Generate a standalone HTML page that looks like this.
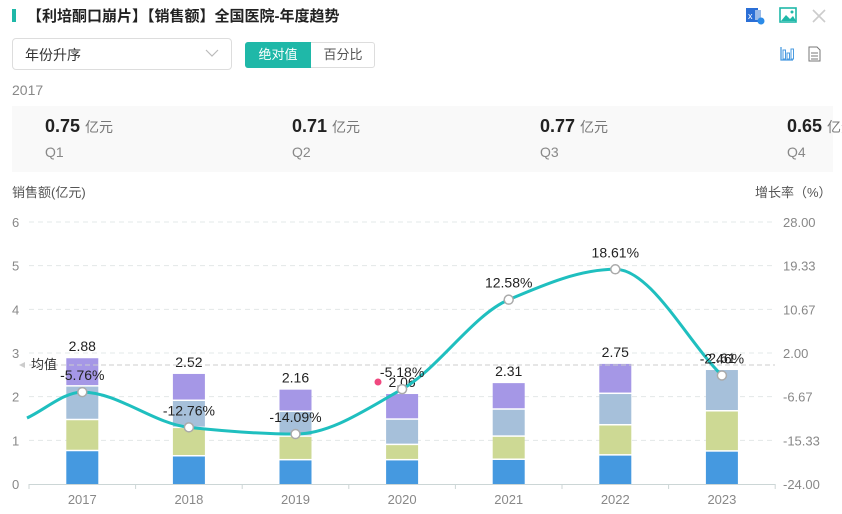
<!DOCTYPE html>
<html><head><meta charset="utf-8"><style>
body{margin:0;width:842px;height:514px;background:#fff;font-family:"Liberation Sans","Noto Sans CJK SC",sans-serif;position:relative;overflow:hidden;color:#333}
.a{position:absolute;white-space:nowrap}
</style></head><body>
<div class="a" style="left:12px;top:9px;width:4px;height:13px;background:#1fb8a8"></div>
<div class="a" style="left:27px;top:5px;font-size:15px;font-weight:bold;color:#222">【利培酮口崩片】【销售额】全国医院-年度趋势</div>
<svg class="a" style="left:745px;top:6px" width="90" height="20">
<rect x="1" y="2" width="12" height="14" fill="#2b6fd6"/><text x="3" y="13" font-size="9" fill="#fff" font-family="Liberation Sans">x</text><rect x="10" y="4" width="6" height="10" fill="#9bbbe8"/><circle cx="16" cy="15" r="3.5" fill="#2b8be8"/>
<rect x="35" y="2" width="16" height="14" fill="none" stroke="#1fb8a8" stroke-width="1.6"/><path d="M36 15 L41 9 L45 13 L48 10 L51 15Z" fill="#1fb8a8"/><circle cx="47" cy="6" r="1.5" fill="#1fb8a8"/>
<path d="M68 4 L80 16 M80 4 L68 16" stroke="#ccc" stroke-width="1.6"/>
</svg>
<div class="a" style="left:12px;top:38px;width:220px;height:32px;border:1px solid #ddd;border-radius:4px;box-sizing:border-box"></div>
<div class="a" style="left:25px;top:45px;font-size:14px;color:#333">年份升序</div>
<svg class="a" style="left:205px;top:48px" width="14" height="10"><path d="M1 2 L7 8 L13 2" fill="none" stroke="#bbb" stroke-width="1.2"/></svg>
<div class="a" style="left:245px;top:42px;width:130px;height:26px;border:1px solid #ddd;border-radius:3px;box-sizing:border-box"></div>
<div class="a" style="left:245px;top:42px;width:66px;height:26px;background:#1fb8a8;border-radius:3px 0 0 3px;color:#fff;font-size:13px;line-height:26px;text-align:center">绝对值</div>
<div class="a" style="left:311px;top:42px;width:64px;font-size:13px;line-height:26px;text-align:center;color:#555">百分比</div>
<svg class="a" style="left:778px;top:44px" width="50" height="20">
<path d="M3 3 V16 H15" fill="none" stroke="#4a9be0" stroke-width="1.3"/><rect x="5" y="6" width="2.5" height="9" fill="none" stroke="#4a9be0"/><rect x="9" y="9" width="2.5" height="6" fill="none" stroke="#4a9be0"/><rect x="13" y="5" width="2.5" height="10" fill="none" stroke="#4a9be0"/>
<path d="M31 3 H39 L42 6 V17 H31Z" fill="none" stroke="#777"/><path d="M33 9H40M33 12H40M33 15H40" stroke="#777"/>
</svg>
<div class="a" style="left:12px;top:82px;font-size:14px;color:#888">2017</div>
<div class="a" style="left:12px;top:106px;width:821px;height:66px;background:#f9f9f9"></div>
<div class="a" style="left:45px;top:116px;font-size:18px;font-weight:bold;color:#222">0.75 <span style="font-size:14px;font-weight:normal;color:#777">亿元</span></div>
<div class="a" style="left:45px;top:144px;font-size:14px;color:#888">Q1</div>
<div class="a" style="left:292px;top:116px;font-size:18px;font-weight:bold;color:#222">0.71 <span style="font-size:14px;font-weight:normal;color:#777">亿元</span></div>
<div class="a" style="left:292px;top:144px;font-size:14px;color:#888">Q2</div>
<div class="a" style="left:540px;top:116px;font-size:18px;font-weight:bold;color:#222">0.77 <span style="font-size:14px;font-weight:normal;color:#777">亿元</span></div>
<div class="a" style="left:540px;top:144px;font-size:14px;color:#888">Q3</div>
<div class="a" style="left:787px;top:116px;font-size:18px;font-weight:bold;color:#222">0.65 <span style="font-size:14px;font-weight:normal;color:#777">亿元</span></div>
<div class="a" style="left:787px;top:144px;font-size:14px;color:#888">Q4</div>
<div class="a" style="left:12px;top:182px;font-size:13px;color:#555">销售额(亿元)</div>
<div class="a" style="left:755px;top:182px;font-size:13px;color:#555">增长率（%）</div>
<svg id="c" class="a" style="left:0;top:0" width="842" height="514" font-family="Liberation Sans,sans-serif"></svg>
<script>
var s='',Y=v=>484-v*43.67,R=v=>222+(28-v)*5.038;
var L=['6','5','4','3','2','1','0'],Rl=['28.00','19.33','10.67','2.00','-6.67','-15.33','-24.00'];
for(var i=0;i<7;i++){var y=222+i*43.67;
if(i<6)s+='<line x1="29" x2="775" y1="'+y+'" y2="'+y+'" stroke="#e3e8e8" stroke-dasharray="5,4"/>';
s+='<text x="12" y="'+(y+5)+'" font-size="13" fill="#888">'+L[i]+'</text>';
s+='<text x="783" y="'+(y+5)+'" font-size="13" fill="#888">'+Rl[i]+'</text>';}
s+='<line x1="29" x2="775" y1="484.5" y2="484.5" stroke="#ccd6d6"/>';
for(var i=0;i<=7;i++){var x=29+i*106.6;s+='<line x1="'+x+'" x2="'+x+'" y1="484" y2="489" stroke="#ccd6d6"/>';}
var C=['#4599e0','#cdd994','#a6c0da','#a597e6'];
var D=[[0.75,1.46,2.23,2.88],[0.63,1.28,1.9,2.52],[0.54,1.08,1.65,2.16],[0.54,0.89,1.47,2.06],[0.55,1.08,1.7,2.31],[0.65,1.34,2.06,2.75],[0.74,1.66,2.61]];
var T=['2.88','2.52','2.16','2.06','2.31','2.75','2.61'],Yr=[2017,2018,2019,2020,2021,2022,2023];
var P=[-5.76,-12.76,-14.09,-5.18,12.58,18.61,-2.46];
var cx=[];for(var i=0;i<7;i++)cx.push(29+106.6*(i+0.5));
for(var i=0;i<7;i++){var b=0,d=D[i];for(var j=0;j<d.length;j++){var y1=Y(d[j]),y0=Y(b);
s+='<rect x="'+(cx[i]-16)+'" y="'+y1+'" width="32" height="'+(y0-y1-(j?1.5:0))+'" fill="'+C[j]+'"/>';b=d[j];}
s+='<text x="'+cx[i]+'" y="'+(Y(d[d.length-1])-7)+'" font-size="14" fill="#222" text-anchor="middle">'+T[i]+'</text>';
s+='<text x="'+cx[i]+'" y="504" font-size="13" fill="#888" text-anchor="middle">'+Yr[i]+'</text>';}
s+='<line x1="29" x2="775" y1="365" y2="365" stroke="#ccc" stroke-dasharray="5,3"/>';
s+='<path d="M19 365 L25 362 L25 368Z" fill="#ccc"/><text x="31" y="369" font-size="13" fill="#333">均值</text>';
var pts=[[27,418]];for(var i=0;i<7;i++)pts.push([cx[i],R(P[i])]);
// monotone X
var n=pts.length,m=[],dl=[];
for(var i=0;i<n-1;i++)dl.push((pts[i+1][1]-pts[i][1])/(pts[i+1][0]-pts[i][0]));
for(var i=0;i<n;i++){if(i==0)m.push(dl[0]);else if(i==n-1)m.push(dl[n-2]);else{var a=dl[i-1],b2=dl[i];
if(a*b2<=0)m.push(0);else{var h0=pts[i][0]-pts[i-1][0],h1=pts[i+1][0]-pts[i][0];m.push(3*(h0+h1)/((2*h1+h0)/a+(h1+2*h0)/b2));}}}
var d='M'+pts[0][0]+' '+pts[0][1];
for(var i=0;i<n-1;i++){var h=(pts[i+1][0]-pts[i][0])/3;
d+=' C'+(pts[i][0]+h)+' '+(pts[i][1]+m[i]*h)+' '+(pts[i+1][0]-h)+' '+(pts[i+1][1]-m[i+1]*h)+' '+pts[i+1][0]+' '+pts[i+1][1];}
s+='<path d="'+d+'" fill="none" stroke="#1fbfbf" stroke-width="3"/>';
for(var i=0;i<7;i++){var y=R(P[i]);s+='<circle cx="'+cx[i]+'" cy="'+y+'" r="4.5" fill="#fff" stroke="#aaa" stroke-width="1.5"/>';
s+='<text x="'+cx[i]+'" y="'+(y-12)+'" font-size="14" fill="#222" text-anchor="middle">'+P[i].toFixed(2)+'%</text>';}
s+='<circle cx="378" cy="382" r="3.5" fill="#f0487f"/>';
document.getElementById('c').innerHTML=s;
</script>
</body></html>
